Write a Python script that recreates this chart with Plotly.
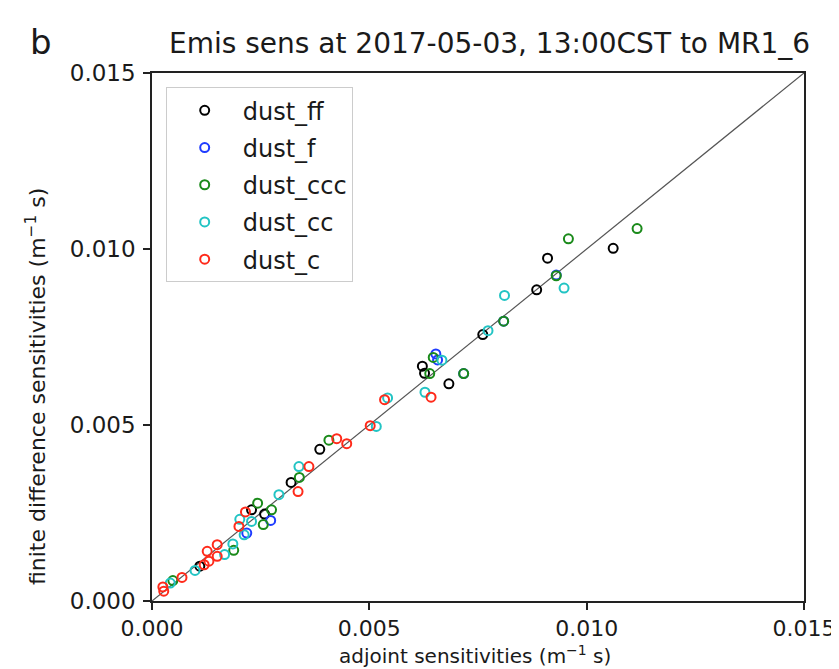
import plotly.graph_objects as go

# data values in units of 1e-3 m^-1 s
ff_x = [10.61, 9.10, 8.85, 7.61, 6.22, 6.27, 6.83, 3.86, 3.20, 2.29, 2.59, 1.10]
ff_y = [10.02, 9.74, 8.84, 7.57, 6.67, 6.47, 6.17, 4.31, 3.37, 2.59, 2.47, 0.99]

f_x = [9.30, 8.09, 6.53, 6.57, 7.17, 2.73, 2.18]
f_y = [9.26, 7.95, 7.02, 6.85, 6.46, 2.29, 1.93]

ccc_x = [11.16, 9.58, 9.30, 8.09, 6.47, 6.39, 7.17, 4.07, 3.39, 2.43, 2.75, 2.56, 1.88, 0.48]
ccc_y = [10.58, 10.29, 9.24, 7.95, 6.92, 6.46, 6.46, 4.57, 3.51, 2.78, 2.59, 2.17, 1.44, 0.58]

cc_x = [9.48, 8.11, 7.73, 6.67, 6.28, 5.42, 5.16, 3.38, 2.92, 2.02, 2.29, 2.12, 1.86, 1.67, 0.99, 0.42]
cc_y = [8.89, 8.68, 7.68, 6.84, 5.93, 5.77, 4.96, 3.82, 3.02, 2.32, 2.26, 1.88, 1.62, 1.32, 0.87, 0.51]

c_x = [6.42, 5.35, 5.02, 4.25, 4.48, 3.61, 3.36, 2.15, 2.00, 1.50, 1.27, 1.50, 1.31, 1.20, 0.69, 0.25, 0.27]
c_y = [5.79, 5.72, 4.98, 4.61, 4.47, 3.82, 3.11, 2.53, 2.12, 1.60, 1.41, 1.27, 1.13, 1.03, 0.67, 0.40, 0.28]

series = [
    ("dust_ff", ff_x, ff_y, "#000000"),
    ("dust_f", f_x, f_y, "#1f3cff"),
    ("dust_ccc", ccc_x, ccc_y, "#1a8a1a"),
    ("dust_cc", cc_x, cc_y, "#22c4c4"),
    ("dust_c", c_x, c_y, "#ff2a1a"),
]

axis_range = [0, 0.015]
tick_vals = [0.0, 0.005, 0.010, 0.015]
tick_text = ["0.000", "0.005", "0.010", "0.015"]

FONT = "DejaVu Sans"
TXT = "#1a1a1a"
fig = go.Figure()

fig.add_trace(go.Scatter(x=axis_range, y=axis_range, mode="lines",
                         line=dict(color="#555555", width=1.2),
                         showlegend=False, hoverinfo="skip"))

for i, (name, xs, ys, col) in enumerate(series):
    fig.add_trace(go.Scatter(
        x=[v * 1e-3 for v in xs], y=[v * 1e-3 for v in ys],
        mode="markers", name=name, legendgroup=f"g{i}",
        marker=dict(symbol="circle-open", size=9, color=col, line=dict(width=2, color=col)),
    ))

axis_common = dict(range=axis_range, tickvals=tick_vals, ticktext=tick_text,
                   showgrid=False, zeroline=False, showline=True, linecolor="#222222",
                   linewidth=1.5, mirror=True, ticks="outside", ticklen=7, tickwidth=1.5,
                   tickcolor="#222222", tickfont=dict(family=FONT, size=23, color=TXT))

fig.update_layout(
    width=839, height=669,
    margin=dict(l=144, r=35, t=65, b=76),
    paper_bgcolor="white", plot_bgcolor="white",
    font=dict(family=FONT, color=TXT),
    xaxis=dict(axis_common, tickfont=dict(family=FONT, size=22, color=TXT)),
    yaxis=dict(axis_common, ticklabelstandoff=3),
    showlegend=True,
    legend=dict(x=0.021, y=0.973, xanchor="left", yanchor="top",
                bordercolor="#cccccc", borderwidth=1, bgcolor="white",
                font=dict(family=FONT, size=24, color=TXT),
                itemwidth=66, tracegroupgap=3, traceorder="grouped"),
    title=dict(text="Emis sens at 2017-05-03, 13:00CST to MR1_6", x=0.574, xanchor="center",
               y=0.932, yanchor="bottom", font=dict(family=FONT, size=28, color=TXT)),
    annotations=[
        dict(text="b", xref="paper", yref="paper", x=-0.17, y=1.058, xanchor="center", yanchor="middle",
             showarrow=False, font=dict(family=FONT, size=34, color=TXT)),
        dict(text="adjoint sensitivities (m<sup>−1</sup> s)", xref="paper", yref="paper", x=0.495, y=-0.103,
             xanchor="center", yanchor="middle", showarrow=False, font=dict(family=FONT, size=20, color=TXT)),
        dict(text="finite difference sensitivities (m<sup>−1</sup> s)", xref="paper", yref="paper", x=-0.178, y=0.407,
             xanchor="center", yanchor="middle", textangle=-90, showarrow=False,
             font=dict(family=FONT, size=22, color=TXT)),
    ],
)

fig.write_html("out.html")
